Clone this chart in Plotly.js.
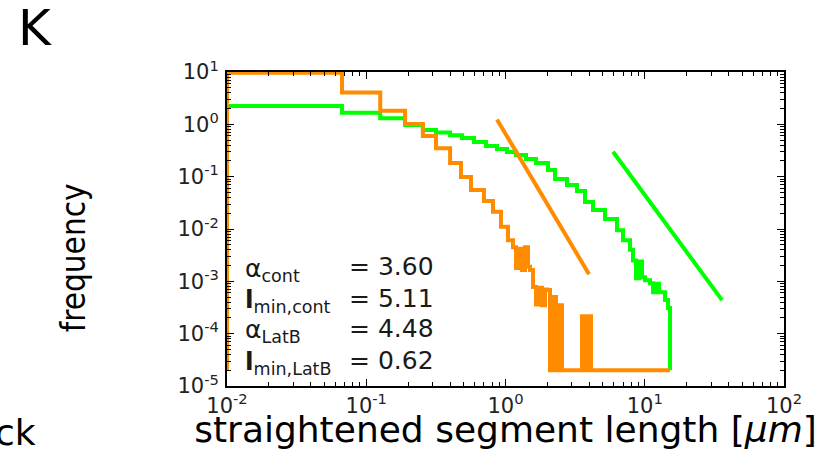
<!DOCTYPE html>
<html>
<head>
<meta charset="utf-8">
<script src="https://cdn.plot.ly/plotly-3.0.1.min.js"></script>
<style>html,body{margin:0;padding:0;background:#fff;}#chart{width:837px;height:450px;}</style>
</head>
<body>
<div id="chart"></div>
<script>
// ---- data ----
// LatB histogram (orange): left bin edges and frequency values (step, hv)
const latbX = [0.01, 0.01, 0.067, 0.126, 0.19, 0.255, 0.317, 0.40, 0.479, 0.565, 0.70, 0.813, 0.928, 1.042,
  1.132, 1.190, 1.250, 1.314, 1.380, 1.451, 1.500, 1.576, 1.656, 1.740, 1.829, 1.922,
  1.986, 2.087, 2.193, 2.305, 2.423, 2.545, 3.543, 3.723, 3.913, 4.111, 15.18];
const latbY = [2e-5, 9.7, 4.06, 1.82, 1.01, 0.597, 0.348, 0.182, 0.0983, 0.0554, 0.0342, 0.0213, 0.011, 0.0061,
  0.0045, 0.0018, 0.0042, 0.00164, 0.0045, 0.0019, 0.00164, 0.00078, 0.00036, 0.00075, 0.00035, 0.0007,
  0.00068, 2e-5, 0.0005, 2e-5, 0.00035, 2e-5, 0.000216, 2e-5, 0.000216, 2e-5, 2e-5];
// cont histogram (green)
const contX = [0.01, 0.067, 0.126, 0.19, 0.255, 0.317, 0.40, 0.487, 0.594, 0.724, 0.869, 1.025, 1.19, 1.404,
  1.656, 2.02, 2.268, 2.765, 3.262, 3.723, 4.251, 5.182, 6.32, 6.98, 7.838, 8.236, 8.655, 9.095, 9.557,
  10.04, 10.91, 11.46, 12.04, 12.66, 13.30, 13.98, 14.69, 15.18];
const contY = [2.24, 1.67, 1.30, 0.97, 0.78, 0.70, 0.62, 0.55, 0.46, 0.385, 0.337, 0.295, 0.259, 0.217,
  0.182, 0.134, 0.090, 0.069, 0.053, 0.0327, 0.023, 0.0155, 0.0095, 0.0061, 0.0040, 0.0025, 0.00115, 0.0024, 0.0012,
  0.00105, 0.00092, 0.00062, 0.0009, 0.00062, 0.00062, 0.00044, 0.00031, 2e-5];
// power-law fits
const latbFitX = [0.869, 3.98];
const latbFitY = [1.235, 0.00137];
const contFitX = [5.92, 35.9];
const contFitY = [0.299, 0.000437];
// ticks
const xTickVals = [0.01, 0.1, 1, 10, 100];
const xTickText = ['10<sup>-2</sup>', '10<sup>-1</sup>', '10<sup>0</sup>', '10<sup>1</sup>', '10<sup>2</sup>'];
const yTickVals = [1e-5, 1e-4, 1e-3, 1e-2, 1e-1, 1, 10];
const yTickText = ['10<sup>-5</sup>', '10<sup>-4</sup>', '10<sup>-3</sup>', '10<sup>-2</sup>', '10<sup>-1</sup>', '10<sup>0</sup>', '10<sup>1</sup>'];
// fit parameter text
const fitLabels = ['α<sub>cont</sub>', '<b>l</b><sub>min,cont</sub>', 'α<sub>LatB</sub>', '<b>l</b><sub>min,LatB</sub>'];
const fitValues = ['= 3.60', '= 5.11', '= 4.48', '= 0.62'];

const ORANGE = '#FF8C00';
const GREEN = '#00FF00';
const FONT = 'DejaVu Sans, Liberation Sans, Arial, sans-serif';

const traces = [
  {x: contX, y: contY, mode: 'lines', line: {shape: 'hv', color: GREEN, width: 4}, name: 'cont', hoverinfo: 'skip'},
  {x: latbX, y: latbY, mode: 'lines', line: {shape: 'hv', color: ORANGE, width: 4}, name: 'LatB', hoverinfo: 'skip'},
  {x: latbFitX, y: latbFitY, mode: 'lines', line: {color: ORANGE, width: 4}, name: 'LatB fit'},
  {x: contFitX, y: contFitY, mode: 'lines', line: {color: GREEN, width: 4}, name: 'cont fit'}
];

const rowY = [0.380, 0.280, 0.184, 0.0828];
const annotations = [];
for (let i = 0; i < fitLabels.length; i++) {
  annotations.push({xref: 'paper', yref: 'paper', x: 0.0287, y: rowY[i], xanchor: 'left', yanchor: 'middle',
    text: fitLabels[i], showarrow: false, font: {family: FONT, size: 25, color: '#1a1a1a'}, yshift: -3});
  annotations.push({xref: 'paper', yref: 'paper', x: 0.2154, y: rowY[i], xanchor: 'left', yanchor: 'middle',
    text: fitValues[i], showarrow: false, font: {family: FONT, size: 25, color: '#1a1a1a'}});
}
annotations.push({xref: 'paper', yref: 'paper', x: -0.2765, y: 0.41, xanchor: 'center', yanchor: 'middle',
  text: 'frequency', textangle: -90, showarrow: false,
  font: {family: 'DejaVu Sans Condensed, DejaVu Sans, sans-serif', size: 33, color: '#000'}});
annotations.push({xref: 'paper', yref: 'paper', x: -0.3447, y: 1.14, xanchor: 'center', yanchor: 'middle',
  text: 'K', showarrow: false, font: {family: FONT, size: 50, color: '#000'}});
annotations.push({xref: 'paper', yref: 'paper', x: -0.339, y: -0.1465, xanchor: 'right', yanchor: 'middle',
  text: 'ck', showarrow: false, font: {family: FONT, size: 36, color: '#000'}});

const axisCommon = {
  type: 'log', showgrid: false, zeroline: false,
  showline: true, linecolor: '#000', linewidth: 2, mirror: 'ticks',
  ticks: 'inside', ticklen: 7, tickwidth: 1, tickcolor: '#000',
  tickmode: 'array',
  tickfont: {family: FONT, size: 21, color: '#222'},
  minor: {ticks: 'inside', ticklen: 4, tickwidth: 1, tickcolor: '#000', dtick: 'D1', showgrid: false}
};

const layout = {
  width: 837, height: 450,
  margin: {l: 227, r: 53, t: 72, b: 64},
  paper_bgcolor: '#fff', plot_bgcolor: '#fff',
  showlegend: false,
  xaxis: Object.assign({}, axisCommon, {
    range: [-2, 2], tickvals: xTickVals, ticktext: xTickText,
    title: {text: 'straightened segment length [<i>μm</i>]', font: {family: FONT, size: 36, color: '#000'}, standoff: 4}
  }),
  yaxis: Object.assign({}, axisCommon, {
    range: [-5, 1], tickvals: yTickVals, ticktext: yTickText, ticklabelstandoff: 2
  }),
  annotations: annotations
};

Plotly.newPlot('chart', traces, layout, {staticPlot: true, displayModeBar: false});
</script>
</body>
</html>
